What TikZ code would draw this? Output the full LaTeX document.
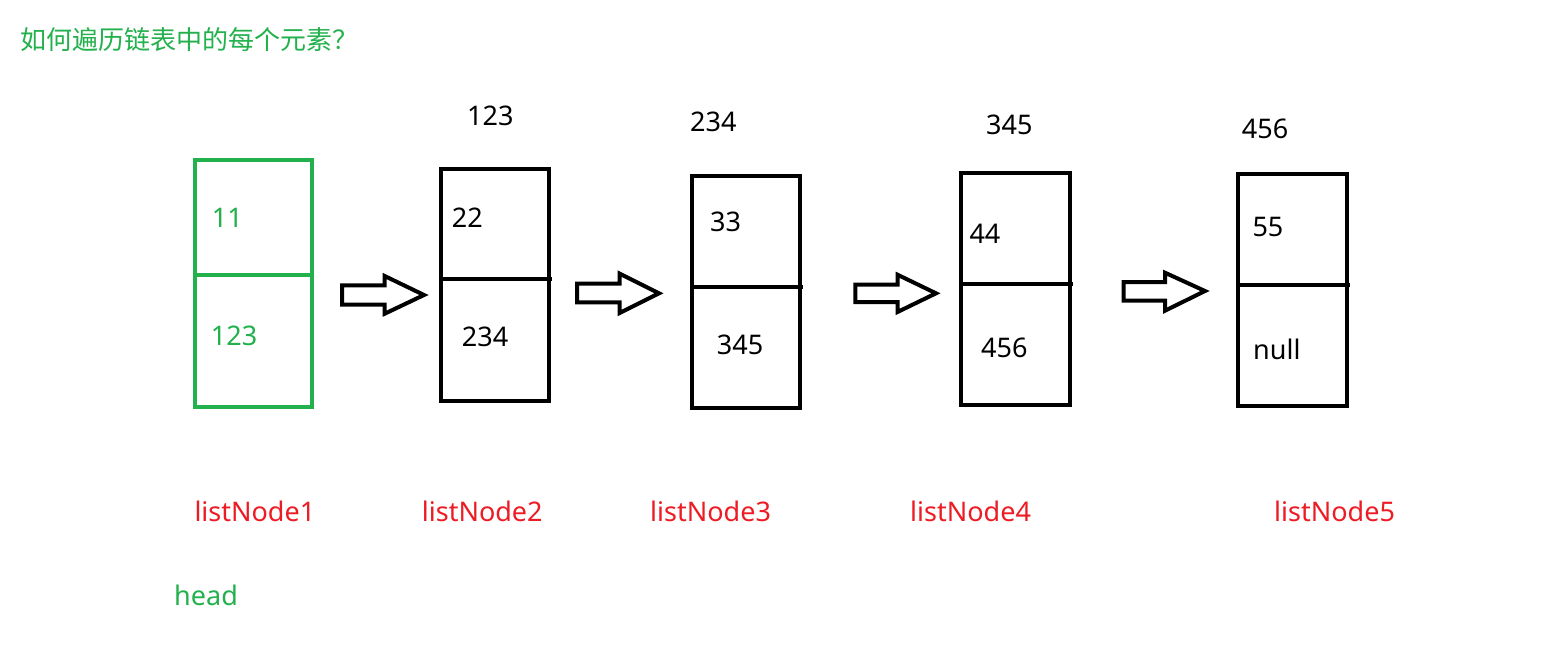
\documentclass[tikz,border=0pt]{standalone}
\usepackage{fontspec}
\setmainfont{Noto Sans}
\newfontfamily\cjk{Noto Sans CJK SC}
\usetikzlibrary{fit}
\definecolor{pgreen}{HTML}{22B14C}
\definecolor{pred}{HTML}{ED1C24}
\begin{document}
\begin{tikzpicture}[x=1pt,y=-1pt,
  lbl/.style={anchor=base west, inner sep=0pt, font=\fontsize{27}{30}\selectfont},
  box/.style={draw, line width=4pt, rectangle, inner sep=0pt, outer sep=0pt},
  divider/.style={line width=4pt},
  blockarrow/.style={draw, line width=4pt, line join=miter},
]
\useasboundingbox[fill=white] (0,0) rectangle (1548,657);

% title
\node[anchor=west, inner sep=0pt, text=pgreen, font=\cjk\fontsize{26}{30}\selectfont] (title) at (20,40) {如何遍历链表中的每个元素？};

% boxes
\node[box, draw=pgreen, fit={(195.3,159.7) (312,407)}] (b1) {};
\node[box, fit={(441,168.7) (549,400.5)}] (b2) {};
\node[box, fit={(692,176) (799.5,408)}] (b3) {};
\node[box, fit={(960.8,172.5) (1069.7,405)}] (b4) {};
\node[box, fit={(1238,173.5) (1346.5,406)}] (b5) {};

\draw[divider, pgreen] (b1.west |- 0,275.3) -- (b1.east |- 0,275.3);
\draw[divider] (b2.west |- 0,279.3) -- ([xshift=3pt]b2.east |- 0,279.3);
\draw[divider] (b3.west |- 0,286.5) -- ([xshift=3.5pt]b3.east |- 0,286.5);
\draw[divider] (b4.west |- 0,283.8) -- ([xshift=3pt]b4.east |- 0,283.8);
\draw[divider] (b5.west |- 0,284.5) -- ([xshift=3.5pt]b5.east |- 0,284.5);

% block arrows
\draw[blockarrow] (342,285.3) -- (384.7,285.3) -- (384.7,276) -- (424,295) -- (384.7,313.7) -- (384.7,304.7) -- (342,304.7) -- cycle;
\draw[blockarrow] (577,283.7) -- (619.7,283.7) -- (619.7,273.7) -- (659,293.3) -- (619.7,313) -- (619.7,302.3) -- (577,302.3) -- cycle;
\draw[blockarrow] (855.3,284.7) -- (897.5,284.7) -- (897.5,274.7) -- (936,293.3) -- (897.5,312) -- (897.5,302) -- (855.3,302) -- cycle;
\draw[blockarrow] (1123.7,282) -- (1165,282) -- (1165,272.7) -- (1205,291) -- (1165,310.7) -- (1165,300.7) -- (1123.7,300.7) -- cycle;

% cell texts
\node[lbl, text=pgreen] (d1) at (211.7,227.3) {11};
\node[lbl, text=pgreen] (n1) at (210.7,345) {123};
\node[lbl] (d2) at (451.7,227.3) {22};
\node[lbl] (n2) at (461.7,346) {234};
\node[lbl] (d3) at (710,231.7) {33};
\node[lbl] (n3) at (716.7,354.3) {345};
\node[lbl] (d4) at (969.3,243.3) {44};
\node[lbl] (n4) at (981,357.3) {456};
\node[lbl] (d5) at (1252.3,236.7) {55};
\node[lbl] (n5) at (1253,359) {null};

% addresses
\node[lbl] (a2) at (467,125) {123};
\node[lbl] (a3) at (690,131.7) {234};
\node[lbl] (a4) at (986,134.3) {345};
\node[lbl] (a5) at (1241.7,138.3) {456};

% names
\node[lbl, text=pred] (l1) at (194.3,521.7) {listNode1};
\node[lbl, text=pred] (l2) at (421.7,521.7) {listNode2};
\node[lbl, text=pred] (l3) at (650,521.7) {listNode3};
\node[lbl, text=pred] (l4) at (910,521.7) {listNode4};
\node[lbl, text=pred] (l5) at (1274,521.7) {listNode5};
\node[lbl, text=pgreen] (head) at (174,605) {head};
\end{tikzpicture}
\end{document}
